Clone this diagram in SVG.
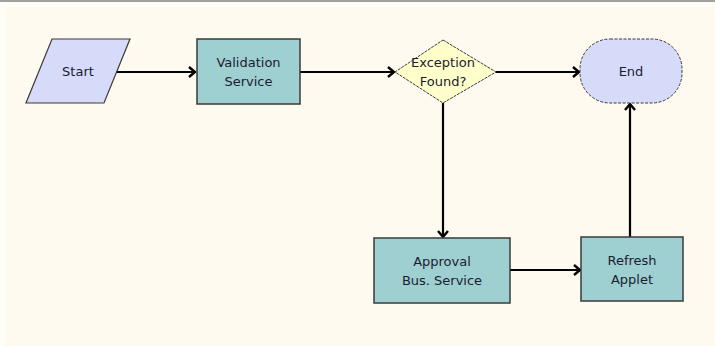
<svg xmlns="http://www.w3.org/2000/svg" width="715" height="346" viewBox="0 0 715 346">
<style>
.t{font-family:"DejaVu Sans","Liberation Sans",sans-serif;font-size:13px;fill:#1c1c30;text-anchor:middle}
.box{fill:#9ecfd1;stroke:#3a3a3a;stroke-width:1.5}
.c{stroke:#000;stroke-width:2.2;fill:none}
</style>
<defs>
<marker id="a" markerWidth="10" markerHeight="12" refX="8" refY="6" orient="auto" markerUnits="userSpaceOnUse">
<path d="M2,1 L8,6 L2,11" fill="none" stroke="#000" stroke-width="2.4"/>
</marker>
</defs>
<rect x="0" y="0" width="715" height="346" fill="#fffdf8"/>
<rect x="5" y="7" width="710" height="339" fill="#fffaef"/>
<rect x="0" y="0" width="715" height="2" fill="#a0a0a0"/>
<g id="connectors">
<line class="c" x1="117" y1="72" x2="195" y2="72" marker-end="url(#a)"/>
<line class="c" x1="300" y1="72" x2="394" y2="72" marker-end="url(#a)"/>
<line class="c" x1="496" y1="72" x2="579" y2="72" marker-end="url(#a)"/>
<line class="c" x1="443" y1="103" x2="443" y2="237" marker-end="url(#a)"/>
<line class="c" x1="510" y1="270" x2="580" y2="270" marker-end="url(#a)"/>
<line class="c" x1="630" y1="237" x2="630" y2="104" marker-end="url(#a)"/>
</g>
<g id="start">
<polygon points="52,39 130,39 104,103 26,103" fill="#d6dbfa" stroke="#3a3a3a" stroke-width="1.2"/>
<text class="t" x="78" y="76">Start</text>
</g>
<g id="validation">
<rect class="box" x="197" y="39" width="103" height="65"/>
<text class="t" x="248.5" y="67">Validation</text>
<text class="t" x="248.5" y="86">Service</text>
</g>
<g id="exception">
<polygon points="443,40 496,72 443,103 395,72" fill="#ffffcc" stroke="#3a3a3a" stroke-width="1" stroke-dasharray="3,1"/>
<text class="t" x="443" y="67">Exception</text>
<text class="t" x="443" y="86">Found?</text>
</g>
<g id="end">
<rect x="580" y="39" width="102" height="64" rx="30" ry="30" fill="#d6dbfa" stroke="#3a3a3a" stroke-width="1" stroke-dasharray="3,1.5"/>
<text class="t" x="631" y="76">End</text>
</g>
<g id="approval">
<rect class="box" x="374" y="238" width="136" height="65"/>
<text class="t" x="442" y="266">Approval</text>
<text class="t" x="442" y="285">Bus. Service</text>
</g>
<g id="refresh">
<rect class="box" x="581" y="237" width="102" height="64"/>
<text class="t" x="632" y="265">Refresh</text>
<text class="t" x="632" y="284">Applet</text>
</g>
</svg>
